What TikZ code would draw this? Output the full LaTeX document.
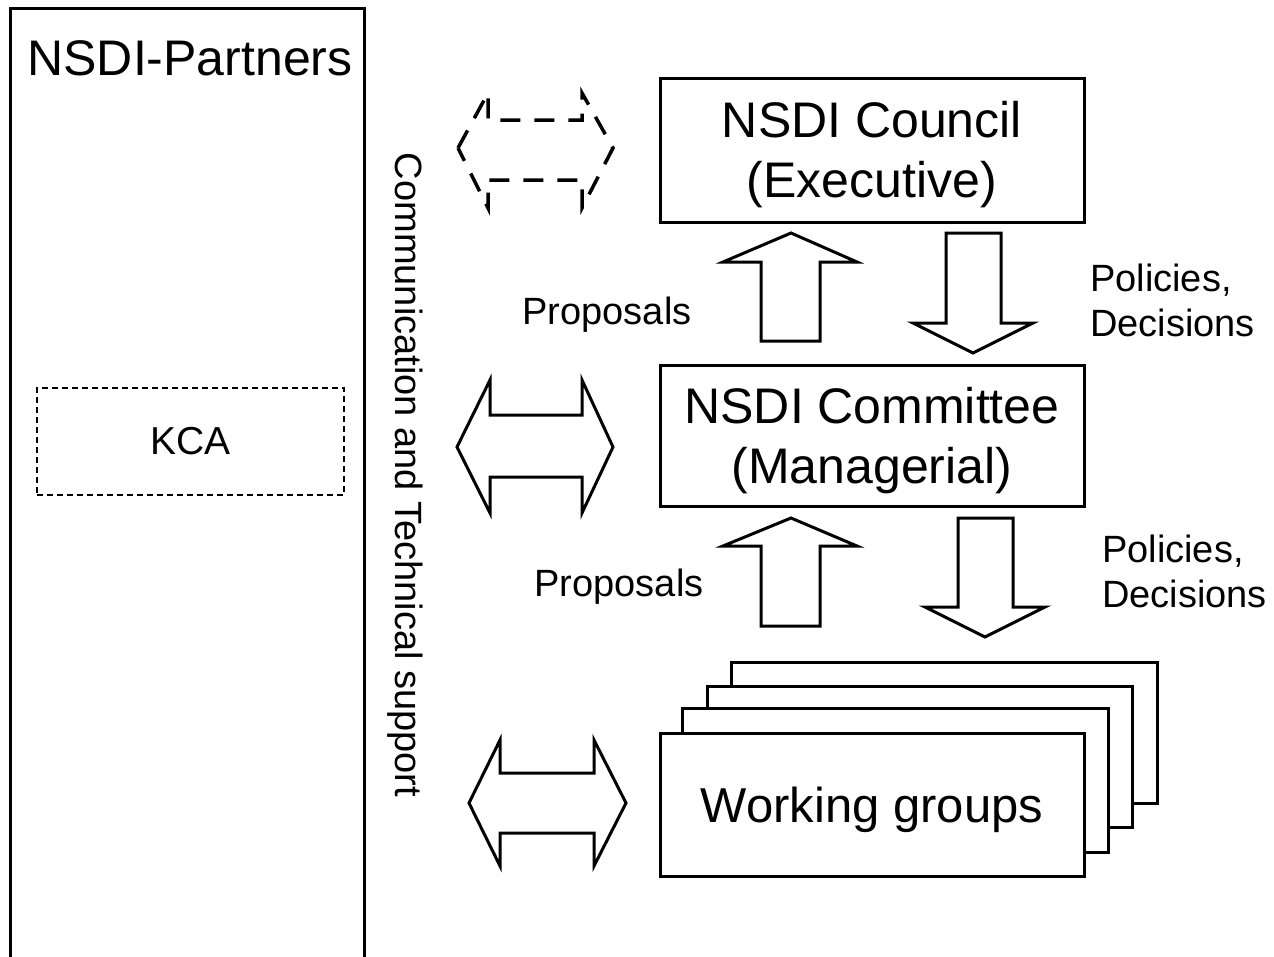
\documentclass[tikz,border=0pt]{standalone}
\usepackage{fontspec}
\setmainfont{Liberation Sans}
\begin{document}
\begin{tikzpicture}[x=1pt,y=-1pt,
  box/.style={draw, line width=3pt, minimum width=424pt, fill=white, inner sep=0pt},
  boxtext/.style={font=\fontsize{50}{60}\selectfont, align=center, inner sep=0pt, yshift=-5pt},
  backbox/.style={draw, line width=3pt, fill=white},
  lbl/.style={font=\fontsize{38}{45}\selectfont, inner sep=0pt, align=left},
  blockarrow/.style={draw, line width=3pt, line join=miter, fill=white},
]
\useasboundingbox (0,0) rectangle (1274,956);
\begin{scope}
\clip (0,0) rectangle (1274,956);
\draw[line width=3pt] (10,975) -- (10,8) -- (364,8) -- (364,975);
\end{scope}
\node[font=\fontsize{50}{60}\selectfont, inner sep=0pt] (partners) at (190,58) {NSDI-Partners};
\node[draw, line width=1.5pt, dash pattern=on 6pt off 4pt, minimum width=307pt, minimum height=107pt, inner sep=0pt, font=\fontsize{39}{45}\selectfont] (kca) at (190.5,441.5) {KCA};
\node[lbl, rotate=-90] (support) at (405,475) {Communication and Technical support};

\node[box, minimum height=144pt, label={[boxtext]center:NSDI Council\\(Executive)}] (council) at (872,150) {};
\node[box, minimum height=141pt, label={[boxtext]center:NSDI Committee\\(Managerial)}] (committee) at (872,435.5) {};

\draw[backbox] (731,662) rectangle (1157,803);
\draw[backbox] (707,686) rectangle (1132,827);
\draw[backbox] (682,708) rectangle (1108,852);
\node[box, minimum height=143pt, label={[boxtext, font=\fontsize{49}{60}\selectfont]center:Working groups}] (wg) at (872,804.5) {};

% block arrows
\draw[blockarrow] (761,341) -- (761,262) -- (723,262) -- (791,233) -- (857,262) -- (820,262) -- (820,341) -- cycle;
\draw[blockarrow] (946,233) -- (1001,233) -- (1001,323) -- (1033,323) -- (973,353) -- (913,323) -- (946,323) -- cycle;
\draw[blockarrow] (761,626) -- (761,546) -- (723,546) -- (791,518) -- (857,546) -- (820,546) -- (820,626) -- cycle;
\draw[blockarrow] (958,518) -- (1013,518) -- (1013,607) -- (1045,607) -- (985,637) -- (925,607) -- (958,607) -- cycle;

% double arrows
\draw[blockarrow, line width=3.5pt, dash pattern=on 20pt off 14pt] (458,148) -- (488,93) -- (488,120) -- (582,120) -- (582,93) -- (613,148) -- (582,208) -- (582,180) -- (488,180) -- (488,208) -- cycle;
\draw[blockarrow] (457,447) -- (490,380) -- (490,415) -- (582,415) -- (582,380) -- (613,447) -- (582,513) -- (582,477) -- (490,477) -- (490,513) -- cycle;
\draw[blockarrow] (469,803) -- (500,740) -- (500,773) -- (594,773) -- (594,740) -- (626,803) -- (594,866) -- (594,833) -- (500,833) -- (500,866) -- cycle;

% labels
\node[lbl] (prop1) at (607,315) {Proposals};
\node[lbl] (prop2) at (619,587) {Proposals};
\node[lbl, anchor=west] (pol1) at (1090,300) {Policies,\\Decisions};
\node[lbl, anchor=west] (pol2) at (1102,571) {Policies,\\Decisions};
\end{tikzpicture}
\end{document}
